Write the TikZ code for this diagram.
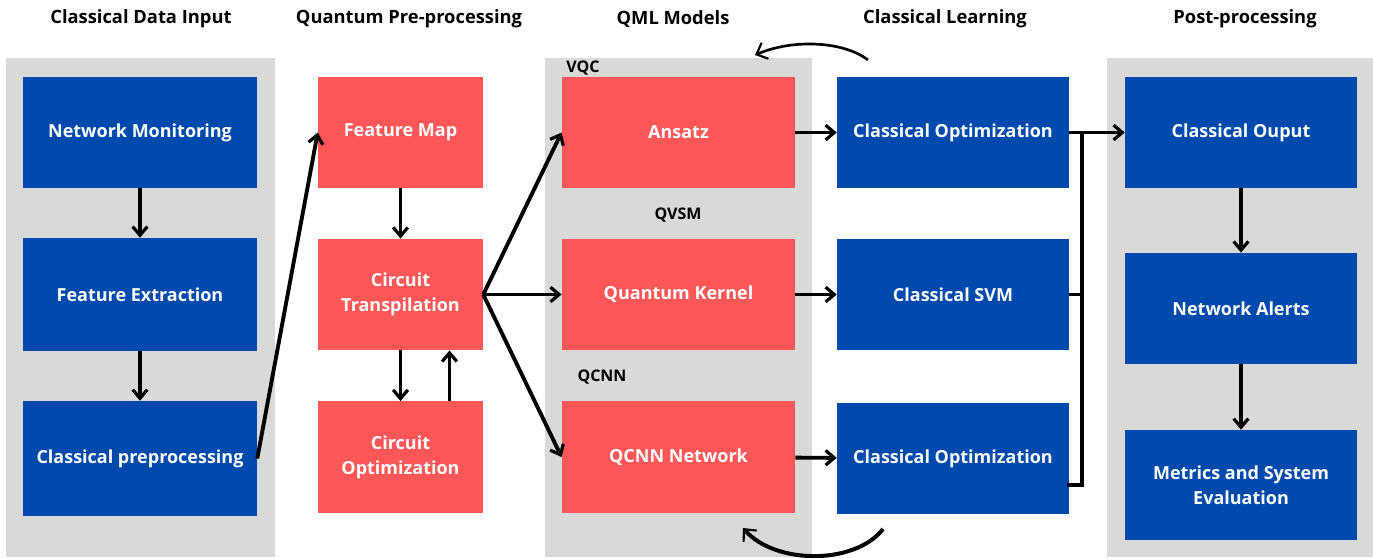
\documentclass[tikz,border=0pt]{standalone}
\usepackage{fontspec}
\setmainfont{Open Sans}
\usetikzlibrary{arrows.meta}

\definecolor{qblue}{RGB}{0,74,173}
\definecolor{qred}{RGB}{255,87,87}
\definecolor{qgrey}{RGB}{217,217,217}

\tikzset{
  blk/.style={inner sep=0pt, align=center, text=white, font=\bfseries\fontsize{13.5}{18.75}\selectfont},
  bluebox/.style={blk, fill=qblue, minimum width=175pt, minimum height=83.5pt},
  redbox/.style={blk, fill=qred, minimum width=175pt, minimum height=83.5pt},
  header/.style={font=\bfseries\fontsize{13.75}{16}\selectfont, inner sep=0pt},
  tag/.style={font=\bfseries\fontsize{12}{14}\selectfont, inner sep=0pt},
  flow/.style={line width=2.9pt, -{Straight Barb[length=6.5pt,width=11pt,line width=2.4pt]}},
  bus/.style={line width=2.9pt},
  loop/.style={line width=2pt, -{Straight Barb[length=7pt,width=13pt,line width=1.6pt]}}
}

\begin{document}
\begin{tikzpicture}[x=0.75pt,y=0.75pt,yscale=-1,xscale=1]
\useasboundingbox (0,0) rectangle (1373,557);

%Panels
\fill[qgrey] (6,58) rectangle (275,557);
\fill[qgrey] (545,58) rectangle (812,557);
\fill[qgrey] (1107,58) rectangle (1373,557);

%Headers
\node[header] (h1) at (141,19) {Classical Data Input};
\node[header] (h2) at (409,19) {Quantum Pre-processing};
\node[header] (h3) at (673,19) {QML Models};
\node[header] (h4) at (945,19) {Classical Learning};
\node[header] (h5) at (1245,19) {Post-processing};

%Classical data input
\node[bluebox, minimum width=175.5pt] (netmon) at (140,132.5) {Network Monitoring};
\node[bluebox, minimum width=175.5pt, minimum height=84.75pt] (featext) at (140,294.5) {Feature Extraction};
\node[bluebox, minimum width=175.5pt, minimum height=86.25pt] (clpre) at (140,458.5) {Classical preprocessing};

%Quantum pre-processing
\node[redbox, minimum width=123.75pt] (featmap) at (400.5,132.5) {Feature Map};
\node[redbox, minimum width=123.75pt] (transp) at (400.5,294.5) {Circuit\\Transpilation};
\node[redbox, minimum width=123.75pt] (circopt) at (400.5,457) {Circuit\\Optimization};

%QML models
\node[tag] (vqc) at (583,68) {VQC};
\node[tag] (qvsm) at (678,215) {QVSM};
\node[tag] (qcnnlbl) at (602,377) {QCNN};
\node[redbox] (ansatz) at (678.5,132.5) {Ansatz};
\node[redbox] (qkernel) at (678.5,294.5) {Quantum Kernel};
\node[redbox] (qcnn) at (678.5,457) {QCNN Network};

%Classical learning
\node[bluebox, minimum width=174pt] (clopt) at (953,132.5) {Classical Optimization};
\node[bluebox, minimum width=174pt] (clsvm) at (953,294.5) {Classical SVM};
\node[bluebox, minimum width=174pt] (clopt2) at (953,458.5) {Classical Optimization};

%Post-processing
\node[bluebox, minimum width=174pt] (clout) at (1241,132.5) {Classical Ouput};
\node[bluebox, minimum width=174pt] (alerts) at (1241,308.5) {Network Alerts};
\node[bluebox, minimum width=174pt, minimum height=82.5pt] (metrics) at (1241,485) {Metrics and System\\Evaluation};

%Connectors
\draw[flow] (netmon) -- (featext);
\draw[flow] (featext) -- (clpre);
\draw[flow] (clpre.east) -- (featmap.west);
\draw[flow] (featmap) -- (transp);
\draw[flow] (transp) -- (circopt);
\draw[flow] ([xshift=36.75pt]circopt.north) -- ([xshift=36.75pt]transp.south);
\draw[flow] (transp.east) -- (ansatz.west);
\draw[flow] (transp.east) -- (qkernel.west);
\draw[flow] (transp.east) -- (qcnn.west);
\draw[flow] (ansatz) -- (clopt);
\draw[flow] (qkernel) -- (clsvm);
\draw[flow] (qcnn) -- (clopt2);
\draw[flow] (clopt) -- (clout);
\draw[flow] (clout) -- (alerts);
\draw[flow] (alerts) -- (metrics);

%Bus
\coordinate (bustop) at (1082,132.5);
\coordinate (busbot) at (1082,485);
\draw[bus] (clsvm.east) -- (clsvm.east -| bustop);
\draw[bus, line cap=rect] (bustop) -- (busbot) -- (busbot -| clopt2.east);

%Feedback loops
\coordinate (topfrom) at (868,60);
\coordinate (topto) at (755,55);
\coordinate (botfrom) at (883,529);
\coordinate (botto) at (743,528);
\draw[loop] (topfrom) .. controls (845,42) and (795,38) .. (topto);
\draw[loop, line width=3pt] (botfrom) .. controls (855,565) and (775,565) .. (botto);

\end{tikzpicture}
\end{document}
